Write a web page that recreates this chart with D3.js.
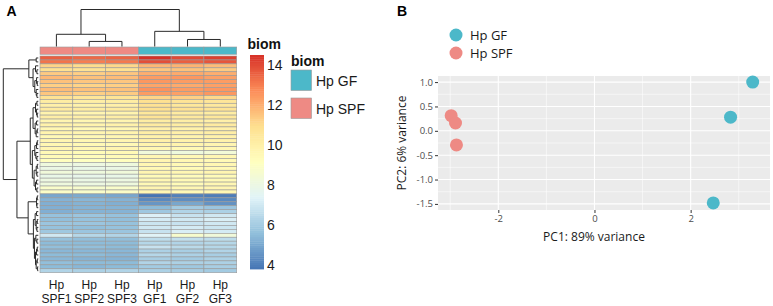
<!DOCTYPE html>
<html><head><meta charset="utf-8">
<script src="https://cdn.jsdelivr.net/npm/d3@7"></script>
<style>body{margin:0;background:#fff}svg{display:block}</style>
</head><body><svg id="c" width="773" height="306"></svg>
<script>
// ---------- DATA ----------
const sampleNames = ["Hp SPF1","Hp SPF2","Hp SPF3","Hp GF1","Hp GF2","Hp GF3"];
const sampleGroups = ["Hp SPF","Hp SPF","Hp SPF","Hp GF","Hp GF","Hp GF"];
const groupLevels = ["Hp GF","Hp SPF"];
const groupColors = ["#4cb8c9","#ee8a84"];
const heatValues = [
 [13.6,13.4,13.5,14.5,14.0,14.2],
 [13.2,13.0,13.1,13.9,13.6,13.8],
 [11.2,11.0,11.1,11.8,11.9,11.7],
 [10.9,10.8,10.9,11.5,11.6,11.4],
 [11.4,11.3,11.5,12.0,12.1,12.0],
 [11.8,11.6,11.7,12.4,12.5,12.3],
 [11.6,11.5,11.5,12.5,12.4,12.4],
 [11.3,11.2,11.3,12.2,12.1,12.3],
 [11.7,11.6,11.6,12.6,12.4,12.5],
 [11.5,11.3,11.4,12.4,12.3,12.5],
 [10.8,10.6,10.7,11.2,11.3,11.1],
 [10.2,10.1,10.2,10.9,10.7,10.6],
 [10.0,9.9,10.0,10.8,10.5,10.4],
 [10.3,10.2,10.3,10.9,10.8,10.7],
 [9.8,9.7,9.8,10.5,10.3,10.2],
 [10.1,10.0,10.1,10.7,10.4,10.5],
 [9.7,9.6,9.7,10.2,10.1,10.0],
 [9.9,9.8,9.9,10.3,10.2,10.3],
 [9.6,9.5,9.6,10.0,9.9,10.0],
 [9.8,9.7,9.8,10.1,10.0,10.1],
 [9.5,9.5,9.6,9.9,9.8,9.9],
 [9.7,9.6,9.7,10.0,9.9,9.9],
 [9.6,9.5,9.5,9.8,9.8,9.7],
 [9.7,9.6,9.7,9.6,9.5,9.6],
 [9.5,9.4,9.5,8.3,8.2,8.4],
 [9.4,9.3,9.4,9.6,9.5,9.6],
 [9.2,9.1,9.2,9.7,9.6,9.5],
 [8.2,8.1,8.2,9.6,9.5,9.6],
 [8.0,7.9,8.0,9.5,9.4,9.5],
 [8.3,8.2,8.3,9.7,9.6,9.7],
 [7.9,7.8,7.9,9.4,9.3,9.4],
 [8.1,8.0,8.1,9.6,9.5,9.5],
 [8.2,8.1,8.2,9.5,9.4,9.6],
 [8.8,8.7,8.8,9.7,9.6,9.7],
 [8.9,8.8,8.9,9.6,9.5,9.6],
 [5.0,5.1,5.0,3.8,4.1,4.0],
 [5.3,5.4,5.3,4.3,4.4,4.3],
 [5.2,5.3,5.2,4.6,5.0,4.5],
 [5.2,5.3,5.3,5.5,6.0,5.8],
 [5.2,5.3,5.3,5.9,6.3,6.2],
 [5.7,5.8,5.7,7.3,6.8,7.0],
 [5.6,5.7,5.6,7.1,7.0,7.2],
 [5.8,5.8,5.7,6.9,6.8,7.0],
 [5.7,5.6,5.7,7.0,7.1,6.9],
 [5.9,5.8,5.8,6.8,7.2,7.1],
 [7.0,6.4,6.3,7.4,8.7,8.3],
 [5.7,5.6,5.6,6.6,6.7,6.6],
 [5.5,5.5,5.5,6.4,6.3,6.4],
 [5.6,5.6,5.5,6.8,6.5,6.4],
 [5.4,5.4,5.4,6.2,6.1,6.3],
 [5.5,5.5,5.4,6.4,6.2,6.1],
 [5.4,5.3,5.3,6.1,6.0,6.2],
 [5.6,5.5,5.5,6.3,6.2,6.2],
 [5.5,5.4,5.5,6.0,5.9,6.1],
 [6.3,6.2,6.3,6.2,6.1,6.0]
];
// dendrograms: [height, left, right]; leaves are row / column indices
const colTree = [1.0, [0.33, 0, [0.137, 1, 2]], [0.41, 3, [0.19, 4, 5]]];
const rowTree = [1.0,
 [0.27, [0.06, 0, 1], [0.15, [0.08, 2, [0.04, 3, 4]], [0.1, [0.05, 5, [0.03, 6, 7]], [0.06, 8, [0.04, 9, 10]]]]],
 [0.61,
  [0.23,
   [0.15, [0.08, [0.04, 11, 12], [0.05, 13, [0.03, 14, 15]]], [0.09, [0.05, 16, 17], [0.06, [0.03, 18, 19], 20]]],
   [0.17, [0.1, [0.05, [0.03, 21, 22], 23], [0.07, 24, [0.04, 25, 26]]], [0.12, [0.06, [0.03, 27, 28], [0.04, 29, 30]], [0.08, [0.05, 31, 32], [0.04, 33, 34]]]]],
  [0.29,
   [0.05, [0.03, 35, 36], [0.04, 37, 38]],
   [0.14, [0.09, [0.05, 39, 40], [0.06, [0.03, 41, 42], [0.04, 43, 44]]], [0.11, [0.07, 45, [0.04, 46, 47]], [0.08, [0.05, [0.03, 48, 49], 50], [0.06, [0.03, 51, 52], [0.02, 53, 54]]]]]]
 ]
];
const heatPalette = ["#4575B4","#91BFDB","#E0F3F8","#FFFFBF","#FEE090","#FC8D59","#D73027"];
const legendTicks = [4, 6, 8, 10, 12, 14];

// PCA
const pc1 = [-2.98, -2.89, -2.87, 3.29, 2.83, 2.47];
const pc2 = [0.31, 0.16, -0.29, 1.0, 0.28, -1.48];
const pcaGroup = ["Hp SPF","Hp SPF","Hp SPF","Hp GF","Hp GF","Hp GF"];
const pcaXTicks = [-2, 0, 2];
const pcaXMinor = [-3, -1, 1, 3];
const pcaYTicks = [-1.5, -1.0, -0.5, 0.0, 0.5, 1.0];
const pcaYMinor = [-1.25, -0.75, -0.25, 0.25, 0.75];
const pcaXDomain = [-3.254, 3.65];
const pcaYDomain = [-1.625, 1.125];

// ---------- DRAW ----------
const svg = d3.select("#c");
const sans = "'Liberation Sans', Arial, Helvetica, sans-serif";
const open = "'Open Sans', 'Noto Sans', sans-serif";
const groupColor = d3.scaleOrdinal().domain(groupLevels).range(groupColors);

const flat = heatValues.flat();
const vmin = d3.min(flat), vmax = d3.max(flat);
const heatColor = d3.scaleLinear()
  .domain(heatPalette.map((c, i) => vmin + i * (vmax - vmin) / (heatPalette.length - 1)))
  .range(heatPalette).interpolate(d3.interpolateRgb);

const xCol = d3.scaleBand().domain(d3.range(sampleNames.length)).range([40, 236.7]);
const yRow = d3.scaleBand().domain(d3.range(heatValues.length)).range([56, 272.7]);

// cells
const gH = svg.append("g");
heatValues.forEach((row, i) => {
  gH.selectAll(null).data(row).join("rect")
    .attr("x", (d, j) => xCol(j)).attr("y", yRow(i))
    .attr("width", xCol.bandwidth()).attr("height", yRow.bandwidth())
    .attr("fill", d => heatColor(d))
    .attr("stroke", "#999").attr("stroke-width", 0.6);
});
// annotation bar
svg.append("g").selectAll("rect").data(sampleGroups).join("rect")
  .attr("x", (d, j) => xCol(j)).attr("y", 47)
  .attr("width", xCol.bandwidth()).attr("height", 7.3)
  .attr("fill", d => groupColor(d)).attr("stroke", "#999").attr("stroke-width", 0.6);

// column labels
const gL = svg.append("g").attr("font-family", sans).attr("font-size", 12).attr("fill", "#1a1a1a").attr("text-anchor", "middle");
sampleNames.forEach((s, j) => {
  const parts = s.split(" ");
  gL.append("text").attr("x", xCol(j) + xCol.bandwidth() / 2).attr("y", 288.6).text(parts[0]);
  gL.append("text").attr("x", xCol(j) + xCol.bandwidth() / 2).attr("y", 302.8).text(parts[1]);
});

// dendrograms
function layoutTree(tree, leafPos) {
  const root = d3.hierarchy(tree, d => Array.isArray(d) ? d.slice(1) : null);
  root.eachAfter(n => {
    if (!n.children) { n.p = leafPos(n.data); n.h = 0; }
    else { n.p = d3.mean(n.children, c => c.p); n.h = n.data[0]; }
  });
  return root;
}
const dendro = svg.append("g").attr("fill", "none").attr("stroke", "#2a2a2a").attr("stroke-width", 1);
const colRoot = layoutTree(colTree, j => xCol(j) + xCol.bandwidth() / 2);
const colH = d3.scaleLinear().domain([0, colRoot.h]).range([46.5, 9.5]);
colRoot.each(n => {
  if (!n.children) return;
  const [a, b] = n.children;
  dendro.append("path").attr("d", `M${a.p},${colH(a.h)}V${colH(n.h)}H${b.p}V${colH(b.h)}`);
});
const rowRoot = layoutTree(rowTree, i => yRow(i) + yRow.bandwidth() / 2);
const rowH = d3.scaleLinear().domain([0, rowRoot.h]).range([38.3, 3.3]);
rowRoot.each(n => {
  if (!n.children) return;
  const [a, b] = n.children;
  dendro.append("path").attr("d", `M${rowH(a.h)},${a.p}H${rowH(n.h)}V${b.p}H${rowH(b.h)}`);
});

// colour bar legend
const cbY = d3.scaleLinear().domain([vmin, vmax]).range([269, 55]);
const nSteps = 100;
svg.append("g").selectAll("rect").data(d3.range(nSteps)).join("rect")
  .attr("x", 250).attr("width", 14)
  .attr("y", k => cbY(vmin + (k + 1) * (vmax - vmin) / nSteps))
  .attr("height", k => cbY(vmin + k * (vmax - vmin) / nSteps) - cbY(vmin + (k + 1) * (vmax - vmin) / nSteps) + 0.4)
  .attr("fill", k => heatColor(vmin + (k + 0.5) * (vmax - vmin) / nSteps));
svg.append("g").attr("font-family", sans).attr("font-size", 14).attr("fill", "#1a1a1a")
  .selectAll("text").data(legendTicks).join("text")
  .attr("x", 267).attr("y", d => cbY(d)).attr("dy", "0.36em").text(d => d);
svg.append("text").attr("x", 247.5).attr("y", 49).attr("font-family", sans).attr("font-size", 14)
  .attr("font-weight", "bold").attr("fill", "#111").text("biom");

// annotation legend
svg.append("text").attr("x", 291).attr("y", 65.5).attr("font-family", sans).attr("font-size", 14)
  .attr("font-weight", "bold").attr("fill", "#111").text("biom");
const gAL = svg.append("g");
gAL.selectAll("rect").data(groupLevels).join("rect")
  .attr("x", 291).attr("y", (d, i) => 70 + i * 28).attr("width", 20.5).attr("height", 20.5)
  .attr("fill", d => groupColor(d)).attr("stroke", "#999").attr("stroke-width", 0.6);
gAL.selectAll("text").data(groupLevels).join("text")
  .attr("x", 316).attr("y", (d, i) => 80.5 + i * 28).attr("dy", "0.36em")
  .attr("font-family", sans).attr("font-size", 14).attr("fill", "#1a1a1a").text(d => d);

// panel labels
svg.append("text").attr("x", 6.5).attr("y", 15.5).attr("font-family", sans).attr("font-size", 14)
  .attr("font-weight", "bold").text("A");
svg.append("text").attr("x", 397).attr("y", 15.5).attr("font-family", sans).attr("font-size", 14)
  .attr("font-weight", "bold").text("B");

// ---------- PCA ----------
const px = d3.scaleLinear().domain(pcaXDomain).range([438, 770]);
const py = d3.scaleLinear().domain(pcaYDomain).range([210, 76]);
const gP = svg.append("g");
gP.append("rect").attr("x", px.range()[0]).attr("y", py.range()[1])
  .attr("width", px.range()[1] - px.range()[0]).attr("height", py.range()[0] - py.range()[1]).attr("fill", "#ebebeb");
gP.selectAll(".vmin").data(pcaXMinor).join("line").attr("x1", px).attr("x2", px)
  .attr("y1", 76).attr("y2", 210).attr("stroke", "#fff").attr("stroke-width", 0.55);
gP.selectAll(".hmin").data(pcaYMinor).join("line").attr("y1", py).attr("y2", py)
  .attr("x1", 438).attr("x2", 770).attr("stroke", "#fff").attr("stroke-width", 0.55);
gP.append("g").selectAll("line").data(pcaXTicks).join("line").attr("x1", px).attr("x2", px)
  .attr("y1", 76).attr("y2", 210).attr("stroke", "#fff").attr("stroke-width", 1.1);
gP.append("g").selectAll("line").data(pcaYTicks).join("line").attr("y1", py).attr("y2", py)
  .attr("x1", 438).attr("x2", 770).attr("stroke", "#fff").attr("stroke-width", 1.1);

const ax = svg.append("g").attr("transform", "translate(0,210)")
  .call(d3.axisBottom(px).tickValues(pcaXTicks).tickSize(3).tickPadding(2).tickFormat(d => String(d)));
const ay = svg.append("g").attr("transform", "translate(438,0)")
  .call(d3.axisLeft(py).tickValues(pcaYTicks).tickSize(3).tickPadding(2).tickFormat(d => d.toFixed(1)));
[ax, ay].forEach(a => {
  a.select(".domain").remove();
  a.selectAll(".tick line").attr("stroke", "#333");
  a.selectAll(".tick text").attr("fill", "#4d4d4d").attr("font-family", open).attr("font-size", 9.5);
});

gP.append("g").selectAll("circle").data(pc1).join("circle")
  .attr("cx", d => px(d)).attr("cy", (d, i) => py(pc2[i])).attr("r", 6.5)
  .attr("fill", (d, i) => groupColor(pcaGroup[i]));

svg.append("text").attr("x", 594).attr("y", 241).attr("text-anchor", "middle")
  .attr("font-family", open).attr("font-size", 12).attr("fill", "#1a1a1a").text("PC1: 89% variance");
svg.append("text").attr("transform", "translate(406,143) rotate(-90)").attr("text-anchor", "middle")
  .attr("font-family", open).attr("font-size", 12).attr("fill", "#1a1a1a").text("PC2: 6% variance");

// PCA legend
const gPL = svg.append("g");
gPL.selectAll("circle").data(groupLevels).join("circle")
  .attr("cx", 456).attr("cy", (d, i) => 35 + i * 18).attr("r", 6.5).attr("fill", d => groupColor(d));
gPL.selectAll("text").data(groupLevels).join("text")
  .attr("x", 470).attr("y", (d, i) => 35 + i * 18).attr("dy", "0.36em")
  .attr("font-family", open).attr("font-size", 13).attr("fill", "#1a1a1a").text(d => d);
</script>
</body></html>
